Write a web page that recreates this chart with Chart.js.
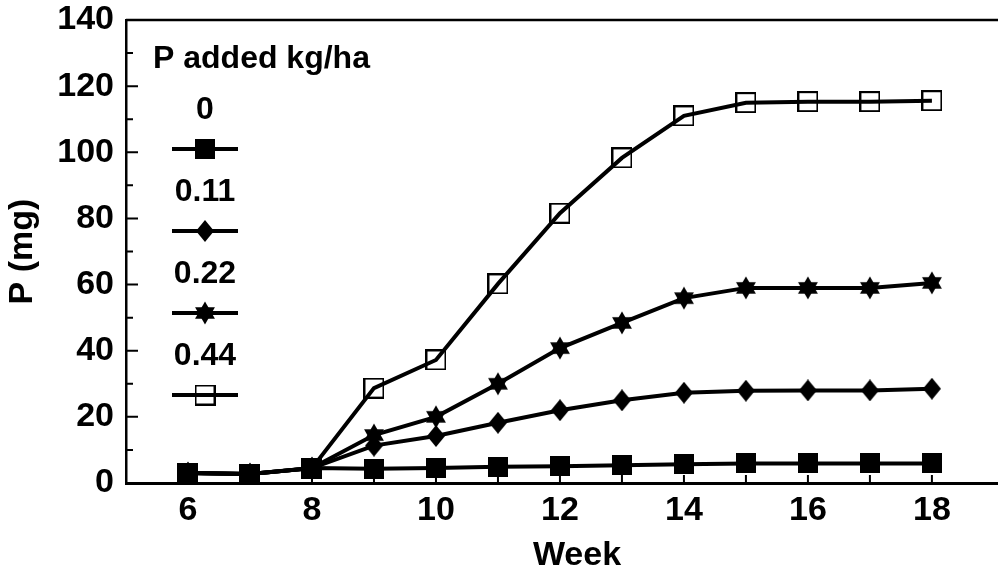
<!DOCTYPE html>
<html>
<head>
<meta charset="utf-8">
<title>P uptake by week</title>
<script src="https://cdn.jsdelivr.net/npm/chart.js@4.4.1/dist/chart.umd.min.js"></script>
<style>
  html, body { margin: 0; padding: 0; overflow: hidden; background: #fff; }
  #wrap { width: 1042px; height: 573px; }
</style>
</head>
<body>
<div id="wrap"><canvas id="pChart" width="1042" height="573"></canvas></div>
<script>
// Weeks after planting
const weeks = [6, 7, 8, 9, 10, 11, 12, 13, 14, 15, 16, 17, 18];

// P (mg) for each P rate (kg/ha)
const rate0    = [3, 2.7, 4.5, 4.3, 4.5, 4.9, 5.1, 5.4, 5.7, 5.9, 5.9, 5.9, 5.9];
const rate011  = [3, 2.7, 4.5, 11.3, 14.2, 18.2, 22, 25, 27.3, 27.9, 28, 28, 28.5];
const rate022  = [3, 2.7, 4.5, 14.5, 20, 30, 40.8, 48.4, 55.9, 59, 59, 59, 60.5];
const rate044  = [3, 2.7, 4.5, 28.7, 37.2, 60.2, 81.6, 98.3, 111, 115, 115.3, 115.3, 115.6];

const rateLabels = ['0', '0.11', '0.22', '0.44'];
const legendTitle = 'P added kg/ha';

const FONT = '"Liberation Sans", Arial, Helvetica, sans-serif';

// small offscreen canvases used as point markers
function makeMarker(w, h, paint) {
  const c = document.createElement('canvas');
  c.width = w;
  c.height = h;
  const g = c.getContext('2d');
  g.fillStyle = '#000';
  g.strokeStyle = '#000';
  paint(g, w, h);
  return c;
}

const squareMark = makeMarker(20, 20, (g, w, h) => g.fillRect(0, 0, w, h));

const diamondMark = makeMarker(18, 22, (g, w, h) => {
  g.beginPath();
  g.moveTo(w / 2, 0);
  g.lineTo(w, h / 2);
  g.lineTo(w / 2, h);
  g.lineTo(0, h / 2);
  g.closePath();
  g.fill();
});

const starMark = makeMarker(24, 24, (g, w, h) => {
  const cx = w / 2, cy = h / 2, r = 11.5;
  [-90, 90].forEach(start => {
    g.beginPath();
    for (let k = 0; k < 3; k++) {
      const a = (start + k * 120) * Math.PI / 180;
      const px = cx + r * Math.cos(a), py = cy + r * Math.sin(a);
      if (k === 0) g.moveTo(px, py); else g.lineTo(px, py);
    }
    g.closePath();
    g.fill();
  });
});

const openSquareMark = makeMarker(21, 21, (g, w, h) => {
  g.lineWidth = 2;
  g.strokeRect(1, 1, w - 2, h - 2);
});

const markers = [squareMark, diamondMark, starMark, openSquareMark];
const seriesValues = [rate0, rate011, rate022, rate044];

function toPoints(values) {
  return weeks.map((w, i) => ({ x: w, y: values[i] }));
}

// inward tick marks plus the top frame line
const innerTicks = {
  id: 'innerTicks',
  beforeDatasetsDraw(chart) {
    const { ctx, chartArea, scales } = chart;
    const xs = scales.x, ys = scales.y;
    ctx.save();
    ctx.strokeStyle = '#000';
    ctx.lineWidth = 2;
    ctx.beginPath();
    ys.ticks.forEach(t => {
      const py = ys.getPixelForValue(t.value);
      const len = t.value % 20 === 0 ? 12 : 7;
      ctx.moveTo(chartArea.left, py);
      ctx.lineTo(chartArea.left + len, py);
    });
    xs.ticks.forEach(t => {
      const px = xs.getPixelForValue(t.value);
      ctx.moveTo(px, chartArea.bottom);
      ctx.lineTo(px, chartArea.bottom - 8);
    });
    ctx.stroke();
    ctx.lineWidth = 2.5;
    ctx.beginPath();
    ctx.moveTo(chartArea.left, chartArea.top);
    ctx.lineTo(chartArea.right, chartArea.top);
    ctx.stroke();
    ctx.restore();
  }
};

// legend: heading, then each rate label above a line sample with its marker
const rateLegend = {
  id: 'rateLegend',
  afterDatasetsDraw(chart) {
    const { ctx, chartArea } = chart;
    const left = chartArea.left, top = chartArea.top;
    ctx.save();
    ctx.fillStyle = '#000';
    ctx.strokeStyle = '#000';
    ctx.font = 'bold 32px ' + FONT;
    ctx.textBaseline = 'middle';
    ctx.textAlign = 'left';
    ctx.fillText(legendTitle, left + 27, top + 39);
    ctx.textAlign = 'center';
    const cx = left + 79;
    rateLabels.forEach((lab, i) => {
      const ly = top + 90 + i * 82;
      ctx.fillText(lab, cx, ly);
      const sy = ly + 39;
      ctx.lineWidth = 4;
      ctx.beginPath();
      ctx.moveTo(left + 46, sy);
      ctx.lineTo(left + 112, sy);
      ctx.stroke();
      const m = markers[i];
      ctx.drawImage(m, cx - m.width / 2, sy - m.height / 2);
    });
    ctx.restore();
  }
};

const tickFont = { family: FONT, size: 34, weight: 'bold' };

new Chart(document.getElementById('pChart'), {
  type: 'line',
  data: {
    datasets: seriesValues.map((vals, i) => ({
      label: rateLabels[i],
      data: toPoints(vals),
      borderColor: '#000',
      borderWidth: 4,
      pointStyle: markers[i],
      pointRadius: 10,
      pointHoverRadius: 10,
      tension: 0,
      fill: false
    }))
  },
  options: {
    responsive: false,
    animation: false,
    events: [],
    layout: { padding: { top: 20, left: 0, right: 0, bottom: 0 } },
    plugins: {
      legend: { display: false },
      tooltip: { enabled: false }
    },
    scales: {
      x: {
        type: 'linear',
        min: 5,
        max: 19.55,
        afterBuildTicks: s => { s.ticks = weeks.map(v => ({ value: v })); },
        afterFit: s => {
          s.height = 90;
          s.paddingLeft = 0;
          s.paddingRight = 0;
        },
        ticks: {
          autoSkip: false,
          maxRotation: 0,
          padding: 7,
          color: '#000',
          font: tickFont,
          callback: v => (v % 2 === 0 ? String(v) : '')
        },
        grid: { display: true, drawOnChartArea: false, drawTicks: false },
        border: { display: true, color: '#000', width: 3 },
        title: {
          display: true,
          text: 'Week',
          color: '#000',
          font: tickFont,
          padding: { top: 0, bottom: -3 }
        }
      },
      y: {
        min: 0,
        max: 140,
        afterFit: s => {
          s.width = 126;
          // top label may overhang the frame, as the 140 does
          s.paddingTop = 0;
          s.paddingBottom = 0;
        },
        ticks: {
          stepSize: 10,
          autoSkip: false,
          padding: 12,
          color: '#000',
          font: tickFont,
          callback: v => (v % 20 === 0 ? String(v) : '')
        },
        grid: { display: true, drawOnChartArea: false, drawTicks: false },
        border: { display: true, color: '#000', width: 2.5 },
        title: {
          display: true,
          text: 'P (mg)',
          color: '#000',
          font: tickFont,
          padding: { top: 2, bottom: 0 }
        }
      }
    }
  },
  plugins: [innerTicks, rateLegend]
});
</script>
</body>
</html>
